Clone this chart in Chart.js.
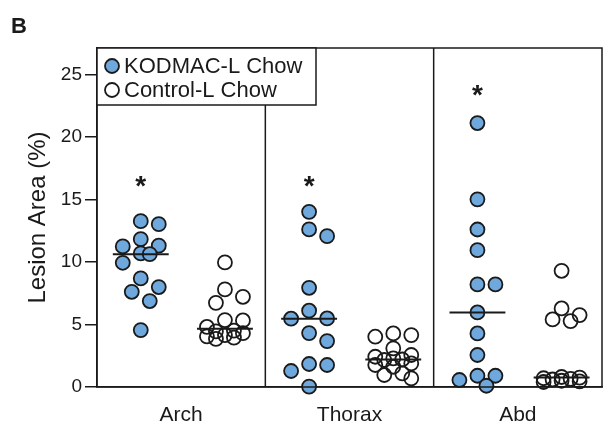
<!DOCTYPE html>
<html>
<head>
<meta charset="utf-8">
<script src="https://cdn.jsdelivr.net/npm/chart.js@4.4.1/dist/chart.umd.min.js"></script>
<style>
  html, body { margin: 0; padding: 0; background: #fff; }
  #wrap { width: 603px; height: 421px; }
</style>
</head>
<body>
<div id="wrap"><canvas id="chart"></canvas></div>
<script>
// values (lesion area, %)
const categories = ['Arch', 'Thorax', 'Abd'];
const seriesNames = ['KODMAC-L Chow', 'Control-L Chow'];
const yTicks = [0, 5, 10, 15, 20, 25];

const kodmacArch = [13.26, 13.02, 11.82, 11.3, 11.24, 10.68, 10.62, 9.93, 8.68, 7.99, 7.61, 6.87, 4.55];
const kodmacThorax = [14.0, 12.6, 12.06, 7.93, 6.1, 5.48, 5.46, 4.31, 3.67, 1.84, 1.76, 1.28, 0.03];
const kodmacAbd = [21.1, 15.0, 12.59, 10.94, 8.2, 8.2, 5.96, 4.28, 2.56, 0.9, 0.9, 0.56, 0.1];

const controlArch = [9.96, 7.8, 7.21, 6.73, 5.35, 5.32, 4.8, 4.5, 4.45, 4.3, 4.15, 4.05, 3.95, 3.85];
const controlThorax = [4.28, 4.15, 4.02, 3.09, 2.56, 2.42, 2.29, 2.2, 2.16, 1.89, 1.76, 1.62, 1.09, 0.96, 0.69];
const controlAbd = [9.29, 6.28, 5.75, 5.4, 5.27, 0.8, 0.75, 0.7, 0.65, 0.6, 0.5, 0.45, 0.4];

// significance marks above the KODMAC groups
const starValues = [16.45, 16.4, 23.67];

const kodmac = [kodmacArch, kodmacThorax, kodmacAbd];
const control = [controlArch, controlThorax, controlAbd];

const FONT = "'Liberation Sans', Arial, sans-serif";
const INK = '#1a1a1a';
const BLUE = '#6fa8dc';
const SHIFT = [-0.24, 0.26];   // group offset inside each panel
const HALF = 0.166;            // half width of median bar

function median(arr) {
    const s = arr.slice().sort((a, b) => a - b);
    const m = Math.floor(s.length / 2);
    return s.length % 2 ? s[m] : (s[m - 1] + s[m]) / 2;
}

function pts(groups, shift) {
    let out = [];
    groups.forEach((vals, i) => vals.forEach(v => out.push({ x: i + 0.5 + shift, y: v, g: i })));
    return out;
}

function medianSets(groups, shift) {
    return groups.map((vals, i) => {
        const m = median(vals);
        const c = i + 0.5 + shift;
        return {
            type: 'line',
            data: [{ x: c - HALF, y: m }, { x: c + HALF, y: m }],
            borderColor: INK,
            borderWidth: 2,
            pointRadius: 0,
            order: 0
        };
    });
}

// beeswarm placement done in pixels once the scales exist
function swarm(chart) {
    const xs = chart.scales.x, ys = chart.scales.y;
    const unit = xs.getPixelForValue(1) - xs.getPixelForValue(0);
    [0, 1].forEach(si => {
        const groups = si === 0 ? kodmac : control;
        const ds = chart.data.datasets[si];
        const sep = 14, step = 9, maxK = 2;
        groups.forEach((vals, gi) => {
            const center = gi + 0.5 + SHIFT[si];
            const placed = [];
            const order = vals.map((v, i) => i).sort((a, b) => vals[b] - vals[a]);
            const offs = new Array(vals.length);
            order.forEach(i => {
                const py = ys.getPixelForValue(vals[i]);
                let best = 0, bestD = -1;
                for (let k = 0; k <= maxK; k++) {
                    const cands = k === 0 ? [0] : [k * step, -k * step];
                    for (const o of cands) {
                        let d = Infinity;
                        placed.forEach(p => { d = Math.min(d, Math.hypot(p.o - o, p.py - py)); });
                        if (d >= sep) { if (bestD < sep) { best = o; bestD = d; } }
                        else if (bestD < sep && d > bestD) { best = o; bestD = d; }
                    }
                    if (bestD >= sep) break;
                }
                placed.push({ o: best, py });
                offs[i] = best;
            });
            const points = ds.data.filter(p => p.g === gi);
            points.forEach((p, i) => { p.x = center + offs[i] / unit; });
        });
    });
    chart.update('none');
}

const decor = {
    id: 'decor',
    afterDatasetsDraw(chart) {
        const { ctx, chartArea: a, scales: { x, y } } = chart;
        ctx.save();
        ctx.strokeStyle = INK;
        ctx.lineWidth = 1.5;
        ctx.strokeRect(a.left, a.top, a.right - a.left, a.bottom - a.top);
        [1, 2].forEach(v => {
            const px = x.getPixelForValue(v);
            ctx.beginPath();
            ctx.moveTo(px, a.top);
            ctx.lineTo(px, a.bottom);
            ctx.stroke();
        });

        // asterisks
        ctx.fillStyle = INK;
        ctx.font = 'bold 28px ' + FONT;
        ctx.textAlign = 'center';
        ctx.textBaseline = 'alphabetic';
        starValues.forEach((v, i) => {
            const m = ctx.measureText('*');
            const px = x.getPixelForValue(i + 0.5 + SHIFT[0]);
            const py = y.getPixelForValue(v) + (m.actualBoundingBoxAscent - m.actualBoundingBoxDescent) / 2;
            ctx.fillText('*', px, py);
        });

        // legend box
        const lx = a.left, ly = a.top, lw = 219, lh = 57;
        ctx.fillStyle = '#fff';
        ctx.fillRect(lx, ly, lw, lh);
        ctx.strokeRect(lx, ly, lw, lh);
        ctx.font = '22px ' + FONT;
        ctx.textAlign = 'left';
        ctx.textBaseline = 'middle';
        seriesNames.forEach((name, i) => {
            const cy = ly + 18 + i * 24;
            ctx.beginPath();
            ctx.arc(lx + 15, cy, 7, 0, Math.PI * 2);
            ctx.fillStyle = i === 0 ? BLUE : '#fff';
            ctx.fill();
            ctx.lineWidth = 1.8;
            ctx.stroke();
            ctx.fillStyle = INK;
            ctx.fillText(name, lx + 27, cy + 1);
        });

        // panel letter
        ctx.font = 'bold 22px ' + FONT;
        ctx.textBaseline = 'alphabetic';
        ctx.fillText('B', 11, 33);
        ctx.restore();
    }
};

const ctx = document.getElementById('chart').getContext('2d');
const chart = new Chart(ctx, {
    type: 'scatter',
    data: {
        datasets: [
            {
                label: seriesNames[0],
                data: pts(kodmac, SHIFT[0]),
                backgroundColor: BLUE,
                borderColor: INK,
                borderWidth: 1.8,
                pointRadius: 7,
                clip: false,
                order: 1
            },
            {
                label: seriesNames[1],
                data: pts(control, SHIFT[1]),
                backgroundColor: 'rgba(255,255,255,0)',
                borderColor: INK,
                borderWidth: 1.8,
                pointRadius: 7,
                clip: false,
                order: 1
            },
            ...medianSets(kodmac, SHIFT[0]),
            ...medianSets(control, SHIFT[1])
        ]
    },
    options: {
        responsive: true,
        maintainAspectRatio: false,
        animation: false,
        events: [],
        layout: { autoPadding: false, padding: { top: 48, right: 1, left: 0, bottom: 0 } },
        plugins: {
            legend: { display: false },
            tooltip: { enabled: false }
        },
        scales: {
            x: {
                type: 'linear',
                min: 0,
                max: 3,
                afterFit: s => { s.height = 34; },
                afterBuildTicks: s => { s.ticks = categories.map((c, i) => ({ value: i + 0.5 })); },
                ticks: {
                    autoSkip: false,
                    maxRotation: 0,
                    padding: 8,
                    color: INK,
                    font: { family: FONT, size: 21 },
                    callback: (v) => categories[Math.floor(v)]
                },
                grid: { display: false },
                border: { display: true, color: INK, width: 1.5 }
            },
            y: {
                min: 0,
                max: 27.1,
                afterFit: s => { s.width = 97; },
                afterBuildTicks: s => { s.ticks = yTicks.map(v => ({ value: v })); },
                ticks: {
                    padding: 3,
                    color: INK,
                    font: { family: FONT, size: 19 }
                },
                grid: {
                    drawOnChartArea: false,
                    drawTicks: true,
                    tickLength: 12,
                    color: INK,
                    lineWidth: 1.5
                },
                border: { display: true, color: INK, width: 1.5 },
                title: {
                    display: true,
                    text: 'Lesion Area (%)',
                    color: INK,
                    padding: { top: 24, bottom: 0 },
                    font: { family: FONT, size: 24 }
                }
            }
        }
    },
    plugins: [decor]
});

swarm(chart);
</script>
</body>
</html>
